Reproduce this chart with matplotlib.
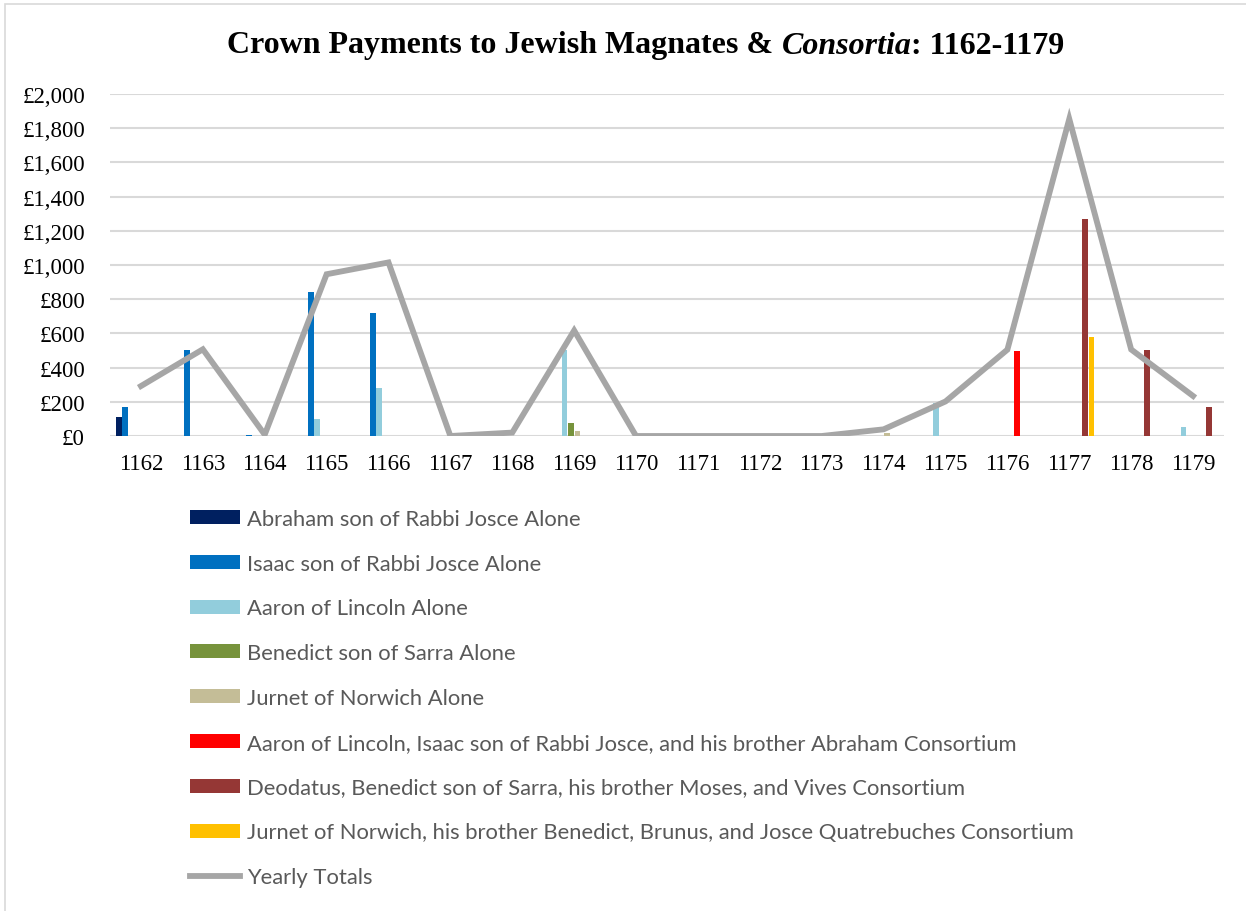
import matplotlib
matplotlib.use("Agg")
import matplotlib.pyplot as plt
import numpy as np
from matplotlib.patches import Patch, Rectangle
from matplotlib.lines import Line2D

years = [1162, 1163, 1164, 1165, 1166, 1167, 1168, 1169, 1170,
         1171, 1172, 1173, 1174, 1175, 1176, 1177, 1178, 1179]

series_names = [
    "Abraham son of Rabbi Josce Alone",
    "Isaac son of Rabbi Josce Alone",
    "Aaron of Lincoln Alone",
    "Benedict son of Sarra Alone",
    "Jurnet of Norwich Alone",
    "Aaron of Lincoln, Isaac son of Rabbi Josce, and his brother Abraham Consortium",
    "Deodatus, Benedict son of Sarra, his brother Moses, and Vives Consortium",
    "Jurnet of Norwich, his brother Benedict, Brunus, and Josce Quatrebuches Consortium",
]

abraham = [111, 0, 0, 0, 0, 0, 0, 0, 0, 0, 0, 0, 0, 0, 0, 0, 0, 0]
isaac = [167, 504, 8, 845, 722, 0, 0, 0, 0, 0, 0, 0, 0, 0, 0, 0, 0, 0]
aaron = [0, 0, 0, 97, 282, 0, 0, 504, 0, 0, 0, 0, 0, 195, 0, 0, 0, 55]
benedict = [0, 0, 0, 0, 0, 0, 0, 78, 0, 0, 0, 0, 0, 0, 0, 0, 0, 0]
jurnet = [0, 0, 0, 0, 0, 0, 0, 31, 0, 0, 0, 0, 15, 0, 0, 0, 0, 0]
consortium_aaron = [0, 0, 0, 0, 0, 0, 0, 0, 0, 0, 0, 0, 0, 0, 498, 0, 0, 0]
consortium_deodatus = [0, 0, 0, 0, 0, 0, 0, 0, 0, 0, 0, 0, 0, 0, 0, 1270, 504, 171]
consortium_jurnet = [0, 0, 0, 0, 0, 0, 0, 0, 0, 0, 0, 0, 0, 0, 0, 580, 0, 0]

yearly_totals = [292, 507, 8, 946, 1015, 0, 20, 617, 0,
                 0, 0, 0, 39, 202, 505, 1854, 506, 234]

bar_series = [abraham, isaac, aaron, benedict, jurnet,
              consortium_aaron, consortium_deodatus, consortium_jurnet]
colors = ["#002060", "#0070C0", "#92CDDC", "#77933C", "#C4BD97",
          "#FF0000", "#953735", "#FFC000"]
line_color = "#A6A6A6"

W, H = 1246, 912
fig = plt.figure(figsize=(W / 100, H / 100), dpi=100)

# chart-area border
fig.patches.append(Rectangle((5 / W, -0.1), 1.2, 1 - 5 / H + 0.1,
                             transform=fig.transFigure, fill=False,
                             edgecolor="#D9D9D9", linewidth=1.2))

ax = fig.add_axes([110 / W, 1 - 437 / H, (1224 - 110) / W, (437 - 95) / H])

x = np.arange(len(years))
step = 0.102
width = 0.09
for k, (vals, col) in enumerate(zip(bar_series, colors)):
    ax.bar(x + (k - 3.5) * step, vals, width=width, color=col, zorder=3)

ax.plot(x, yearly_totals, color=line_color, linewidth=4.2,
        solid_joinstyle="miter", zorder=4)

ax.set_xlim(-0.5, len(years) - 0.5)
ax.set_ylim(0, 2000)
ax.set_yticks(np.arange(0, 2001, 200))
ax.set_yticklabels([f"£{v:,}" for v in range(0, 2001, 200)])
ax.set_xticks(x)
ax.set_xticklabels([str(y) for y in years])

for s in ax.spines.values():
    s.set_visible(False)
ax.grid(axis="y", color="#D9D9D9", linewidth=1.5, zorder=0)
ax.tick_params(axis="both", length=0, labelsize=16.5, colors="black")
ax.tick_params(axis="y", pad=18)
ax.tick_params(axis="x", pad=12)
for lab in ax.get_xticklabels() + ax.get_yticklabels():
    lab.set_fontfamily("Liberation Serif")

# title: bold with an italic word
fig.canvas.draw()
renderer = fig.canvas.get_renderer()
parts = [("Crown Payments to Jewish Magnates & ", "normal"),
         ("Consortia", "italic"),
         (": 1162-1179", "normal")]
title_y = 1 - 46 / H
texts = []
for s, style in parts:
    t = fig.text(0, title_y, s, fontsize=23, fontweight="bold", style=style,
                 family="Liberation Serif", va="center", ha="left")
    texts.append(t)
widths = [t.get_window_extent(renderer).width for t in texts]
total = sum(widths)
cx = 646
xpos = cx - total / 2
for t, w in zip(texts, widths):
    t.set_x(xpos / W)
    xpos += w

handles = [Patch(facecolor=c, edgecolor="none") for c in colors]
handles.append(Line2D([0], [0], color=line_color, linewidth=4.2))
labels = series_names + ["Yearly Totals"]
leg = fig.legend(handles, labels, loc="upper left",
                 bbox_to_anchor=(181 / W, 1 - 501 / H), frameon=False,
                 prop={"family": "Lato", "size": 15.8},
                 labelcolor="#595959", handlelength=2.3, handleheight=0.6,
                 handletextpad=0.3, labelspacing=1.13, borderaxespad=0)

fig.savefig("out.png", dpi=100)
